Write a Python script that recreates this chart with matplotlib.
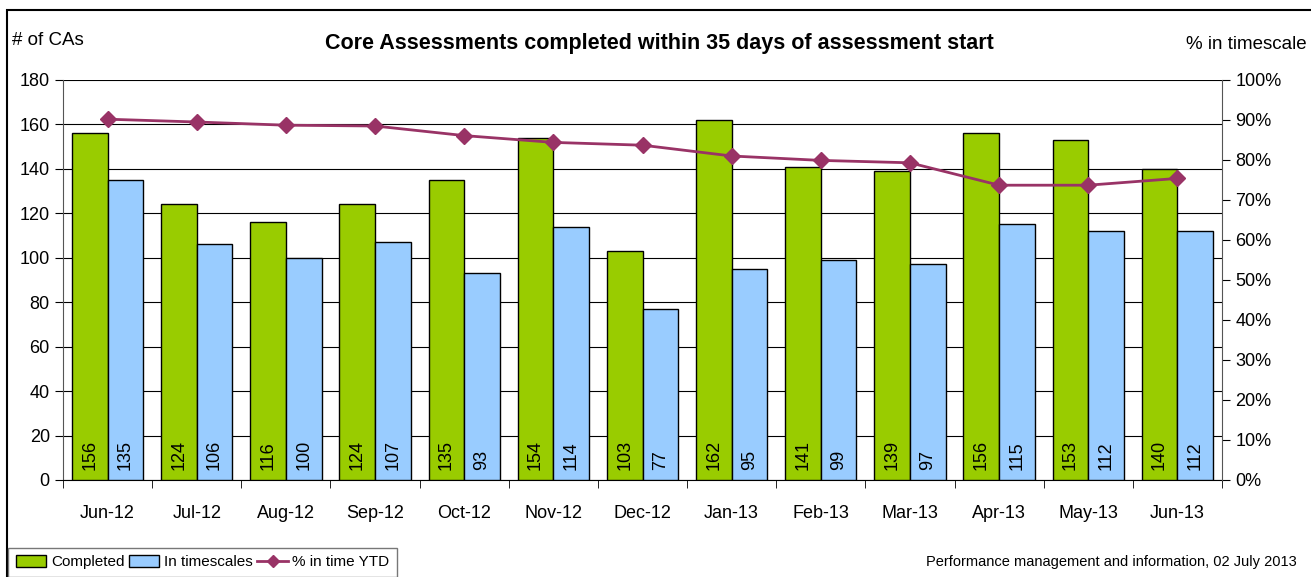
import numpy as np
import matplotlib
matplotlib.use('Agg')
import matplotlib.pyplot as plt
from matplotlib.patches import Rectangle

plt.rcParams['font.family'] = ['Liberation Sans', 'DejaVu Sans']

months = ['Jun-12', 'Jul-12', 'Aug-12', 'Sep-12', 'Oct-12', 'Nov-12', 'Dec-12',
          'Jan-13', 'Feb-13', 'Mar-13', 'Apr-13', 'May-13', 'Jun-13']
completed = [156, 124, 116, 124, 135, 154, 103, 162, 141, 139, 156, 153, 140]
in_time = [135, 106, 100, 107, 93, 114, 77, 95, 99, 97, 115, 112, 112]
pct_ytd = [90.2, 89.5, 88.7, 88.5, 86.1, 84.4, 83.7, 81.0, 79.9, 79.3, 73.7, 73.7, 75.4]

green = '#99CC00'
blue = '#99CCFF'
plum = '#993366'

fig = plt.figure(figsize=(13.11, 5.77), dpi=100)
ax = fig.add_axes([63/1311, 97/577, 1159/1311, 400/577])

x = np.arange(len(months))
w = 0.4
b1 = ax.bar(x - w/2, completed, w, color=green, edgecolor='black', linewidth=1, label='Completed', zorder=3)
b2 = ax.bar(x + w/2, in_time, w, color=blue, edgecolor='black', linewidth=1, label='In timescales', zorder=3)

# value labels at the foot of each bar
for i in range(len(months)):
    ax.text(x[i] - w/2, 4.5, str(completed[i]), rotation=90, ha='center', va='bottom', fontsize=13, zorder=4)
    ax.text(x[i] + w/2, 4.5, str(in_time[i]), rotation=90, ha='center', va='bottom', fontsize=13, zorder=4)

ax.set_xlim(-0.5, len(months) - 0.5)
ax.set_ylim(0, 180)
ax.set_yticks(range(0, 181, 20))
ax.yaxis.grid(True, color='black', linewidth=0.8, zorder=0)
ax.set_axisbelow(True)
ax.set_xticks(x)
ax.set_xticklabels(months, fontsize=13)
ax.set_xticks(np.arange(-0.5, len(months), 1), minor=True)
ax.tick_params(axis='x', which='major', length=0, pad=18)
ax.tick_params(axis='x', which='minor', length=6, direction='out')
ax.tick_params(axis='y', labelsize=13, length=6, direction='out')
for s in ['top', 'right']:
    ax.spines[s].set_visible(False)
ax.spines['left'].set_color('#555555')
ax.spines['bottom'].set_color('black')

ax2 = ax.twinx()
ln, = ax2.plot(x, pct_ytd, color=plum, linewidth=2, marker='D', markersize=8, label='% in time YTD', zorder=5)
ax2.set_ylim(0, 100)
ax2.set_yticks(range(0, 101, 10))
ax2.set_yticklabels([f'{v}%' for v in range(0, 101, 10)])
ax2.tick_params(axis='y', labelsize=13, length=6, direction='out')
for s in ['top', 'left', 'bottom']:
    ax2.spines[s].set_visible(False)
ax2.spines['right'].set_color('#555555')

fig.text(0.503, 0.925, 'Core Assessments completed within 35 days of assessment start',
         ha='center', va='center', fontsize=15.5, fontweight='bold')
fig.text(12/1311, 0.93, '# of CAs', ha='left', va='center', fontsize=13.5)
fig.text(1186/1311, 0.923, '% in timescale', ha='left', va='center', fontsize=13.5)
fig.text(1297/1311, 0.026, 'Performance management and information, 02 July 2013',
         ha='right', va='center', fontsize=10.5)

fig.patches.append(Rectangle((7/1311, -0.01), 1.0, 0.993, transform=fig.transFigure,
                             fill=False, edgecolor='black', linewidth=1.5))

leg = fig.legend(handles=[b1, b2, ln], loc='lower left', bbox_to_anchor=(8/1311, 0.0),
                 ncol=3, fontsize=11, frameon=True, fancybox=False, handlelength=2.0,
                 handleheight=0.8, columnspacing=0.3, handletextpad=0.3, borderpad=0.5,
                 borderaxespad=0, markerscale=0.8)
leg.get_frame().set_edgecolor('#555555')
leg.get_frame().set_linewidth(1)

fig.savefig('out.png', dpi=100)
